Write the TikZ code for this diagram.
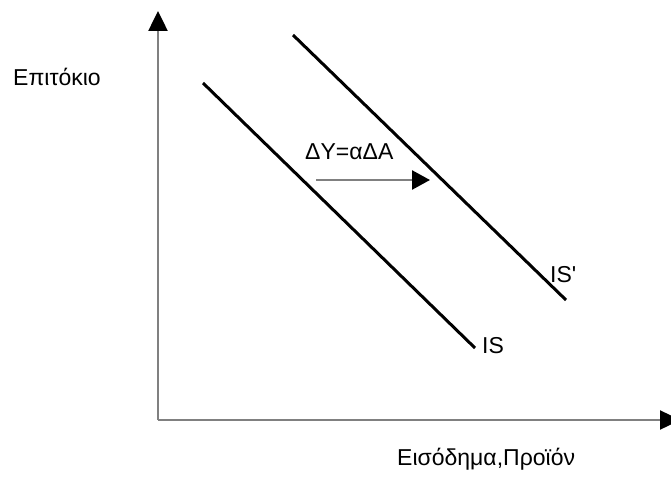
\documentclass[tikz,border=0pt]{standalone}
\usepackage{fontspec}
\setmainfont{Liberation Sans}[Ligatures=TeXOff]
\usetikzlibrary{arrows.meta}

\begin{document}
\begin{tikzpicture}[
      x=1pt,y=-1pt,
      font=\fontsize{23}{27}\selectfont,
      axis/.style={draw=gray,line width=2.5pt,-{Triangle[length=20pt,width=19pt,black]}},
      curve/.style={draw=black,line width=3pt},
      moveline/.style={draw=gray,line width=2.5pt,-{Triangle[length=18pt,width=19pt,black]}},
      lbl/.style={anchor=base west,inner sep=0pt}
    ]
      \useasboundingbox (0,0) rectangle (671,478);
      \coordinate (origin) at (158,420);
      \coordinate (ytip) at (158,11);
      \coordinate (xtip) at (680,420);
      \draw[axis] (origin) -- (ytip);
      \draw[axis] (origin) -- (xtip);

      \node[lbl] (rate) at (13,86) {Επιτόκιο};
      \node[lbl] (income) at (397,465) {Εισόδημα,Προϊόν};

      \coordinate (is-top) at (203,83);
      \coordinate (is-end) at (475,348);
      \coordinate (isp-top) at (293,35);
      \coordinate (isp-end) at (566,300);
      \draw[curve] (is-top) -- (is-end);
      \draw[curve] (isp-top) -- (isp-end);
      \node[lbl] (is) at (482,353) {IS};
      \node[lbl] (isp) at (550,282) {IS'};

      \coordinate (from) at (316,180);
      \coordinate (to) at (430,180);
      \draw[moveline] (from) -- (to);
      \node[lbl] (mult) at (305,160) {ΔY=αΔA};
    \end{tikzpicture}
\end{document}
